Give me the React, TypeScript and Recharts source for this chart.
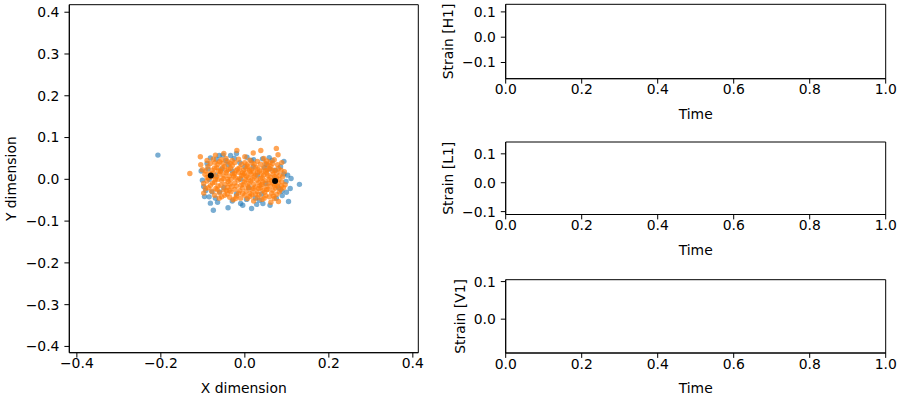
import React from "react";
import {
  ScatterChart,
  Scatter,
  XAxis,
  YAxis,
  ReferenceArea,
} from "recharts";

// sample positions, detector A (blue) and detector B (orange)
const bluePoints: [number, number][] = [
  [-0.207, 0.058], [0.034, 0.098], [0.13, -0.012], [-0.082, -0.057], [-0.075, -0.074],
  [-0.04, -0.068], [0.016, -0.07], [0.104, -0.053], [0.099, -0.031], [0.093, 0.043],
  [-0.082, 0.051], [-0.061, 0.057], [-0.052, 0.058], [-0.034, 0.057], [-0.101, -0.002],
  [-0.098, -0.017], [-0.093, -0.027], [0.043, -0.058], [0.089, -0.039], [-0.01, -0.058],
  [0.005, 0.053], [0.021, 0.047], [0.042, 0.049], [0.051, 0.036], [0.073, 0.022],
  [0.093, 0.013], [0.11, 0.002], [-0.09, 0.038], [-0.07, -0.045], [0.108, -0.022],
  [0.06, -0.062], [-0.02, 0.062], [-0.005, -0.062], [0.028, -0.06], [0.085, 0.03],
  [-0.104, 0.02], [-0.085, -0.042], [-0.096, -0.041], [-0.07, 0.01], [-0.05, -0.02],
  [-0.03, 0.02], [-0.01, 0.0], [0.01, -0.02], [0.03, 0.01], [0.05, -0.01],
  [0.07, 0.0], [0.02, 0.03], [-0.04, 0.035], [0.06, 0.025], [-0.06, -0.03],
  [0.0, 0.03], [0.04, -0.035], [-0.02, -0.035], [0.08, -0.02], [-0.085, 0.0],
  [0.015, 0.045], [-0.045, 0.045], [0.065, 0.045], [-0.055, 0.025], [0.025, -0.045],
  [-0.068, 0.048], [-0.025, 0.05], [0.058, 0.052], [0.098, -0.005], [0.102, 0.01],
  [0.088, -0.028], [-0.065, -0.055], [-0.03, -0.052], [0.035, -0.05], [0.075, -0.045],
  [-0.088, 0.025], [-0.078, -0.03], [0.004, -0.048], [0.047, 0.028], [-0.012, 0.04],
];

const orangePoints: [number, number][] = [
  [-0.019, 0.069], [0.038, 0.069], [0.075, 0.074], [0.079, 0.059], [-0.106, 0.054],
  [0.0, 0.054], [-0.05, 0.062], [0.02, 0.063], [-0.07, 0.058],
  [-0.09, 0.045], [-0.075, 0.048], [-0.06, 0.042], [-0.045, 0.05], [-0.03, 0.045],
  [-0.015, 0.048], [0.0, 0.04], [0.012, 0.046], [0.03, 0.043], [0.045, 0.05],
  [0.06, 0.041], [0.07, 0.047], [0.088, 0.04], [-0.105, 0.035], [-0.052, 0.038],
  [0.022, 0.036], [0.055, 0.034],
  [-0.101, 0.023], [-0.088, 0.03], [-0.078, 0.022], [-0.067, 0.028], [-0.058, 0.02],
  [-0.048, 0.031], [-0.039, 0.024], [-0.03, 0.033], [-0.021, 0.021], [-0.012, 0.028],
  [-0.003, 0.022], [0.007, 0.031], [0.016, 0.024], [0.026, 0.029], [0.035, 0.02],
  [0.044, 0.027], [0.053, 0.022], [0.062, 0.03], [0.071, 0.021], [0.08, 0.026],
  [0.094, 0.018], [-0.064, 0.036], [-0.035, 0.038], [0.005, 0.035], [0.048, 0.038],
  [-0.131, 0.014], [-0.095, 0.012], [-0.086, 0.004], [-0.075, 0.015], [-0.068, 0.006],
  [-0.06, 0.012], [-0.052, 0.002], [-0.045, 0.016], [-0.037, 0.008], [-0.029, 0.013],
  [-0.022, 0.003], [-0.015, 0.017], [-0.008, 0.009], [0.0, 0.014], [0.008, 0.004],
  [0.015, 0.012], [0.022, 0.006], [0.03, 0.016], [0.037, 0.002], [0.045, 0.01],
  [0.052, 0.015], [0.06, 0.005], [0.067, 0.012], [0.075, 0.003], [0.083, 0.01],
  [0.09, 0.006], [-0.057, 0.018], [-0.033, 0.0], [0.012, 0.018], [0.058, -0.001],
  [-0.098, -0.01], [-0.09, -0.004], [-0.082, -0.015], [-0.072, -0.007], [-0.064, -0.016],
  [-0.055, -0.003], [-0.047, -0.012], [-0.04, -0.005], [-0.031, -0.017], [-0.024, -0.009],
  [-0.016, -0.002], [-0.009, -0.014], [-0.001, -0.006], [0.007, -0.016], [0.014, -0.004],
  [0.021, -0.012], [0.029, -0.002], [0.036, -0.015], [0.043, -0.007], [0.05, -0.017],
  [0.057, -0.009], [0.064, -0.003], [0.071, -0.014], [0.079, -0.008], [0.087, -0.016],
  [0.096, -0.013], [-0.07, 0.0], [0.002, -0.001], [0.033, -0.008], [0.068, -0.01],
  [-0.098, -0.033], [-0.087, -0.02], [-0.079, -0.028], [-0.069, -0.022], [-0.06, -0.032],
  [-0.05, -0.025], [-0.041, -0.019], [-0.033, -0.03], [-0.024, -0.024], [-0.015, -0.033],
  [-0.006, -0.021], [0.003, -0.028], [0.012, -0.034], [0.02, -0.022], [0.029, -0.029],
  [0.038, -0.02], [0.047, -0.031], [0.055, -0.024], [0.064, -0.033], [0.073, -0.021],
  [0.082, -0.03], [-0.037, -0.026], [0.008, -0.02], [0.043, -0.027],
  [-0.061, -0.045], [-0.048, -0.038], [-0.036, -0.043], [-0.028, -0.049], [-0.01, -0.045],
  [0.0, -0.038], [0.012, -0.041], [0.021, -0.052], [0.03, -0.044], [0.041, -0.048],
  [0.05, -0.039], [0.062, -0.055], [0.07, -0.046], [0.08, -0.053], [0.058, -0.042],
  [-0.02, -0.04],
  // denser core
  [-0.082, 0.038], [-0.071, 0.04], [-0.056, 0.047], [-0.041, 0.042], [-0.024, 0.04],
  [-0.008, 0.036], [0.017, 0.039], [0.037, 0.036], [0.052, 0.044], [0.066, 0.038],
  [0.078, 0.035], [-0.093, 0.02], [-0.083, 0.013], [-0.072, 0.027], [-0.063, 0.02],
  [-0.053, 0.027], [-0.043, 0.02], [-0.034, 0.026], [-0.025, 0.014], [-0.017, 0.025],
  [-0.006, 0.016], [0.003, 0.026], [0.011, 0.022], [0.021, 0.018], [0.031, 0.025],
  [0.04, 0.015], [0.049, 0.02], [0.058, 0.026], [0.066, 0.02], [0.076, 0.015],
  [0.086, 0.022], [-0.09, 0.005], [-0.079, 0.006], [-0.064, 0.0], [-0.049, 0.008],
  [-0.041, 0.0], [-0.026, 0.008], [-0.012, 0.002], [-0.004, 0.01], [0.004, 0.008],
  [0.018, 0.0], [0.026, 0.01], [0.041, 0.004], [0.048, -0.003], [0.055, 0.009],
  [0.071, 0.006], [0.081, 0.0], [0.088, -0.006], [-0.094, -0.022], [-0.077, -0.009],
  [-0.066, -0.025], [-0.057, -0.014], [-0.044, -0.027], [-0.035, -0.011], [-0.02, -0.016],
  [-0.012, -0.027], [-0.004, -0.012], [0.01, -0.009], [0.017, -0.025], [0.025, -0.018],
  [0.033, -0.022], [0.04, -0.012], [0.052, -0.025], [0.061, -0.016], [0.067, -0.026],
  [0.077, -0.016], [0.085, -0.024], [0.092, -0.02], [-0.072, -0.038], [-0.055, -0.042],
  [-0.042, -0.035], [-0.022, -0.046], [-0.005, -0.034], [0.006, -0.046], [0.017, -0.037],
  [0.034, -0.037], [0.046, -0.045], [0.068, -0.04], [0.076, -0.036], [0.025, -0.035],
];

// the two source positions
const sourcePoints: [number, number][] = [
  [-0.081, 0.009],
  [0.072, -0.004],
];

const xyTicks = [-0.4, -0.3, -0.2, -0.1, 0, 0.1, 0.2, 0.3, 0.4];
const xTicks = [-0.4, -0.2, 0, 0.2, 0.4];
const timeTicks = [0, 0.2, 0.4, 0.6, 0.8, 1];

const detectors = ["H1", "L1", "V1"];
const strainDomains: [number, number][] = [
  [-0.164, 0.13],
  [-0.11, 0.141],
  [-0.09, 0.105],
];
const strainTicks = [
  [-0.1, 0, 0.1],
  [-0.1, 0, 0.1],
  [0, 0.1],
];

const FONT = "DejaVu Sans, sans-serif";
const FS = 13.9;

const fmt = (v: number) => {
  const s = Math.abs(v).toFixed(1);
  return v < -1e-9 ? "\u2212" + s : s;
};

const toObjs = (pts: [number, number][]) => pts.map(([x, y]) => ({ x, y }));

const dot = (r: number, color: string, alpha: number) => (props: any) => (
  <circle cx={props.cx} cy={props.cy} r={r} fill={color} fillOpacity={alpha} />
);

const xTitle = (text: string, below: number) => (props: any) => {
  const vb = props.viewBox;
  return (
    <text
      x={vb.x + vb.width / 2}
      y={vb.y + below}
      textAnchor="middle"
      dominantBaseline="central"
      fill="#000"
      fontSize={FS}
      fontFamily={FONT}
    >
      {text}
    </text>
  );
};

const yTitle = (text: string, cx: number) => (props: any) => {
  const vb = props.viewBox;
  const cy = vb.y + vb.height / 2;
  return (
    <text
      x={cx}
      y={cy}
      transform={`rotate(-90, ${cx}, ${cy})`}
      textAnchor="middle"
      dominantBaseline="central"
      fill="#000"
      fontSize={FS}
      fontFamily={FONT}
    >
      {text}
    </text>
  );
};

const tickStyle = { fill: "#000", fontSize: FS, fontFamily: FONT };
const lineStyle = { stroke: "#000", strokeWidth: 1 };

const XY_X: [number, number] = [-0.418, 0.413];
const XY_Y: [number, number] = [-0.415, 0.418];

function SkyPlot() {
  return (
    <ScatterChart
      width={430}
      height={400}
      margin={{ top: 4.7, right: 11.7, bottom: 0, left: 0 }}
    >
      <XAxis
        type="number"
        dataKey="x"
        domain={XY_X}
        allowDataOverflow
        ticks={xTicks}
        interval={0}
        tickFormatter={fmt}
        tick={tickStyle}
        tickLine={lineStyle}
        axisLine={lineStyle}
        tickSize={4.9}
        tickMargin={1}
        height={47.3}
        label={{ value: "X dimension", content: xTitle("X dimension", 35) }}
      />
      <YAxis
        type="number"
        dataKey="y"
        domain={XY_Y}
        allowDataOverflow
        ticks={xyTicks}
        interval={0}
        tickFormatter={fmt}
        tick={tickStyle}
        tickLine={lineStyle}
        axisLine={lineStyle}
        tickSize={4.9}
        tickMargin={5}
        width={69.3}
        label={{ value: "Y dimension", content: yTitle("Y dimension", 11.5) }}
      />
      <ReferenceArea
        x1={XY_X[0]}
        x2={XY_X[1]}
        y1={XY_Y[0]}
        y2={XY_Y[1]}
        fill="none"
        stroke="#000"
        strokeWidth={1}
        strokeOpacity={1}
      />
      <Scatter
        data={toObjs(bluePoints)}
        shape={dot(2.7, "#1f77b4", 0.6)}
        isAnimationActive={false}
      />
      <Scatter
        data={toObjs(orangePoints)}
        shape={dot(2.7, "#ff7f0e", 0.7)}
        isAnimationActive={false}
      />
      <Scatter
        data={toObjs(sourcePoints)}
        shape={dot(3, "#000", 1)}
        isAnimationActive={false}
      />
    </ScatterChart>
  );
}

// plot box of each strain panel: [chart top, chart height, plot top margin, x-axis height, title x]
const panelBoxes = [
  [0, 130, 4.3, 51.3, 28],
  [137, 130, 5, 52.5, 28],
  [274, 126, 5.7, 47, 40],
];

function StrainPanel({ i }: { i: number }) {
  const [top, height, mTop, axisH, titleX] = panelBoxes[i];
  const dom = strainDomains[i];
  const label = `Strain [${detectors[i]}]`;
  return (
    <div style={{ position: "absolute", left: 420, top }}>
      <ScatterChart
        width={480}
        height={height}
        margin={{ top: mTop, right: 14.3, bottom: 0, left: 0 }}
      >
        <XAxis
          type="number"
          dataKey="t"
          domain={[0, 1]}
          allowDataOverflow
          ticks={timeTicks}
          interval={0}
          tickFormatter={fmt}
          tick={tickStyle}
          tickLine={lineStyle}
          axisLine={lineStyle}
          tickSize={4.9}
          tickMargin={1}
          height={axisH}
          label={{ value: "Time", content: xTitle("Time", 35) }}
        />
        <YAxis
          type="number"
          dataKey="h"
          domain={dom}
          allowDataOverflow
          ticks={strainTicks[i]}
          interval={0}
          tickFormatter={fmt}
          tick={tickStyle}
          tickLine={lineStyle}
          axisLine={lineStyle}
          tickSize={4.9}
          tickMargin={5}
          width={85.7}
          label={{ value: label, content: yTitle(label, titleX) }}
        />
        <ReferenceArea
          x1={0}
          x2={1}
          y1={dom[0]}
          y2={dom[1]}
          fill="none"
          stroke="#000"
          strokeWidth={1}
          strokeOpacity={1}
        />
        <Scatter data={[]} isAnimationActive={false} />
      </ScatterChart>
    </div>
  );
}

export default function App() {
  return (
    <div
      style={{
        position: "fixed",
        left: 0,
        top: 0,
        width: 900,
        height: 400,
        background: "#fff",
        fontFamily: FONT,
        overflow: "hidden",
      }}
    >
      <div style={{ position: "absolute", left: 0, top: 0 }}>
        <SkyPlot />
      </div>
      {detectors.map((_, i) => (
        <StrainPanel key={i} i={i} />
      ))}
    </div>
  );
}
